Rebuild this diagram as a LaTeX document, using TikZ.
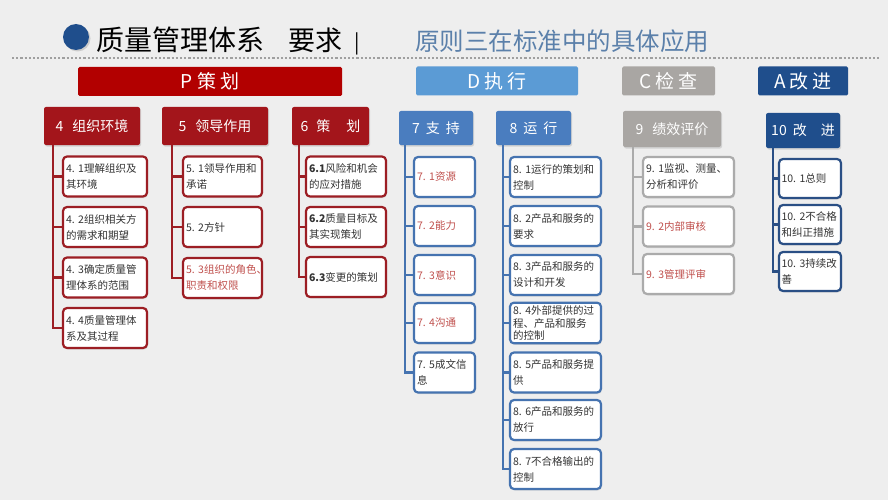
\documentclass[tikz,border=0pt]{standalone}
\usepackage{fontspec}
\setmainfont{Noto Sans CJK SC}
\usepackage{xcolor}
\usetikzlibrary{shadows}

\definecolor{pred}{HTML}{B20000}
\definecolor{hred}{HTML}{A3151B}
\definecolor{lred}{HTML}{9C1E24}
\definecolor{tred}{HTML}{C0504D}
\definecolor{dblue}{HTML}{5B9BD5}
\definecolor{hblue}{HTML}{4A7DBF}
\definecolor{lblue}{HTML}{4573B0}
\definecolor{cgray}{HTML}{A9A6A3}
\definecolor{lgray}{HTML}{ABABAB}
\definecolor{ablue}{HTML}{1F4E8C}
\definecolor{lablue}{HTML}{2A4F85}
\definecolor{titleblue}{HTML}{5B80AA}
\definecolor{bg}{HTML}{EEEEEE}
\definecolor{ink}{HTML}{333333}

\begin{document}
\begin{tikzpicture}[x=1pt,y=-1pt,
  bar/.style={text=white, font=\fontsize{19}{19}\selectfont, minimum height=29pt, inner sep=0pt, rounded corners=1.5pt},
  head/.style={text=white, font=\fontsize{14}{14}\selectfont, minimum height=38pt, inner sep=0pt, rounded corners=2pt,
    drop shadow={opacity=0.25, shadow xshift=1pt, shadow yshift=-1.5pt}},
  item/.style={draw, fill=white, text=ink, line width=2.2pt, rounded corners=4pt, align=left, inner sep=3pt,
    minimum height=40pt, text width=#1, font=\fontsize{10.5}{16}\selectfont,
    drop shadow={opacity=0.2, shadow xshift=1pt, shadow yshift=-1.5pt}},
  trunk/.style={line width=2.2pt}]

  % background
  \useasboundingbox[fill=bg] (0,0) rectangle (888,500);

  % title line
  \node[circle, fill=ablue, minimum size=26pt, inner sep=0pt,
    drop shadow={opacity=0.3, shadow xshift=1.5pt, shadow yshift=-1.5pt}] (dot) at (76,37) {};
  \node[anchor=west, inner sep=0pt, font=\fontsize{28}{28}\selectfont, text=black] (title) at (96,40) {质量管理体系};
  \node[anchor=west, inner sep=0pt, font=\fontsize{27}{27}\selectfont, text=black] (req) at (288,40) {要求};
  \node[inner sep=0pt, font=\fontsize{20}{20}\selectfont, text=black] (sep) at (357,44) {|};
  \node[anchor=west, inner sep=0pt, font=\fontsize{24.5}{24.5}\selectfont, text=titleblue] (sub) at (415,41) {原则三在标准中的具体应用};
  % dotted rule
  \draw[gray!75, line width=1.4pt, dash pattern=on 2.2pt off 2pt] (12,58) -- (880,58);

  % PDCA bars
  \node[bar, fill=pred, minimum width=264pt] (barP) at (210,81.5) {P\hspace{5pt}策\hspace{4pt}划};
  \node[bar, fill=dblue, minimum width=162pt] (barD) at (497,81) {D\hspace{4pt}执\hspace{4pt}行};
  \node[bar, fill=cgray, minimum width=93pt] (barC) at (668.5,81) {C\hspace{4pt}检\hspace{4pt}查};
  \node[bar, fill=ablue, minimum width=90pt] (barA) at (803,81) {A\hspace{4pt}改\hspace{4pt}进};

  % clause headers
  \node[head, fill=hred, minimum width=96pt] (h4) at (92,126) {4\hspace{9pt}组织环境};
  \node[head, fill=hred, minimum width=106pt] (h5) at (215,126) {5\hspace{9pt}领导作用};
  \node[head, fill=hred, minimum width=77pt] (h6) at (330.5,126) {6\hspace{8pt}策\hspace{16pt}划};
  \node[head, fill=hblue, minimum width=74pt, minimum height=34pt] (h7) at (436,128) {7\hspace{6pt}支\hspace{6pt}持};
  \node[head, fill=hblue, minimum width=75pt, minimum height=34pt] (h8) at (533.5,128) {8\hspace{6pt}运\hspace{6pt}行};
  \node[head, fill=cgray, minimum width=98pt, minimum height=36pt] (h9) at (672,129) {9\hspace{9pt}绩效评价};
  \node[head, fill=ablue, minimum width=74pt, minimum height=35pt] (h10) at (803,130.5) {10\hspace{6pt}改\hspace{14pt}进};

  % clause 4
  \node[item=78pt, draw=lred] (c41) at (105,176.5) {4.~1理解组织及\\其环境};
  \node[item=78pt, draw=lred] (c42) at (105,227) {4.~2组织相关方\\的需求和期望};
  \node[item=78pt, draw=lred] (c43) at (105,277.5) {4.~3确定质量管\\理体系的范围};
  \node[item=78pt, draw=lred] (c44) at (105,328) {4.~4质量管理体\\系及其过程};
  \foreach \c in {c41,c42,c43,c44}
    \draw[trunk, lred] ([xshift=9pt]h4.south west) |- (\c.west);

  % clause 5
  \node[item=73pt, draw=lred] (c51) at (222.5,176.5) {5.~1领导作用和\\承诺};
  \node[item=73pt, draw=lred] (c52) at (222.5,227) {5.~2方针};
  \node[item=73pt, draw=lred, text=tred] (c53) at (222.5,278) {5.~3组织的角色、\\职责和权限};
  \foreach \c in {c51,c52,c53}
    \draw[trunk, lred] ([xshift=10pt]h5.south west) |- (\c.west);

  % clause 6
  \node[item=74pt, draw=lred] (c61) at (346,176.5) {\textbf{6.1}风险和机会\\的应对措施};
  \node[item=74pt, draw=lred] (c62) at (346,227) {\textbf{6.2}质量目标及\\其实现策划};
  \node[item=74pt, draw=lred] (c63) at (346,277) {\textbf{6.3}变更的策划};
  \foreach \c in {c61,c62,c63}
    \draw[trunk, lred] ([xshift=7pt]h6.south west) |- (\c.west);

  % clause 7
  \node[item=55pt, draw=lblue, text=tred] (c71) at (444.5,177) {7.~1资源};
  \node[item=55pt, draw=lblue, text=tred] (c72) at (444.5,226) {7.~2能力};
  \node[item=55pt, draw=lblue, text=tred] (c73) at (444.5,275) {7.~3意识};
  \node[item=55pt, draw=lblue, text=tred] (c74) at (444.5,323) {7.~4沟通};
  \node[item=55pt, draw=lblue] (c75) at (444.5,372.5) {7.~5成文信\\息};
  \foreach \c in {c71,c72,c73,c74,c75}
    \draw[trunk, lblue] ([xshift=6pt]h7.south west) |- (\c.west);

  % clause 8
  \node[item=85pt, draw=lblue] (c81) at (555.5,177) {8.~1运行的策划和\\控制};
  \node[item=85pt, draw=lblue] (c82) at (555.5,226) {8.~2产品和服务的\\要求};
  \node[item=85pt, draw=lblue] (c83) at (555.5,275) {8.~3产品和服务的\\设计和开发};
  \node[item=85pt, draw=lblue, font=\fontsize{10.5}{12.5}\selectfont] (c84) at (555.5,323) {8.~4外部提供的过\\程、产品和服务\\的控制};
  \node[item=85pt, draw=lblue] (c85) at (555.5,372.5) {8.~5产品和服务提\\供};
  \node[item=85pt, draw=lblue] (c86) at (555.5,420) {8.~6产品和服务的\\放行};
  \node[item=85pt, draw=lblue] (c87) at (555.5,469) {8.~7不合格输出的\\控制};
  \foreach \c in {c81,c82,c83,c84,c85,c86,c87}
    \draw[trunk, lblue] ([xshift=7pt]h8.south west) |- (\c.west);

  % clause 9
  \node[item=85pt, draw=lgray] (c91) at (688.5,177) {9.~1监视、测量、\\分析和评价};
  \node[item=85pt, draw=lgray, text=tred] (c92) at (688.5,226.5) {9.~2内部审核};
  \node[item=85pt, draw=lgray, text=tred] (c93) at (688.5,274) {9.~3管理评审};
  \foreach \c in {c91,c92,c93}
    \draw[trunk, lgray] ([xshift=10pt]h9.south west) |- (\c.west);

  % clause 10
  \node[item=57pt, draw=lablue, minimum height=39pt, inner sep=2.5pt] (c101) at (810,178.5) {10.~1总则};
  \node[item=57pt, draw=lablue, minimum height=39pt, inner sep=2.5pt] (c102) at (810,224.5) {10.~2不合格\\和纠正措施};
  \node[item=57pt, draw=lablue, minimum height=39pt, inner sep=2.5pt] (c103) at (810,271.5) {10.~3持续改\\善};
  \foreach \c in {c101,c102,c103}
    \draw[trunk, lablue] ([xshift=7pt]h10.south west) |- (\c.west);
\end{tikzpicture}
\end{document}
